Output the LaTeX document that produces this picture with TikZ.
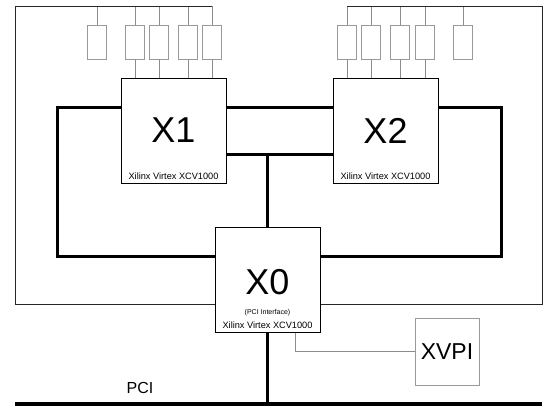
\documentclass[tikz,border=0pt]{standalone}
\usepackage{fontspec}
\setmainfont{Liberation Sans}
\usetikzlibrary{positioning,calc}
\tikzset{
  every node/.style={font=\normalsize},
  % --- nodes
  fpga/.style  = {draw=black, line width=1pt, fill=white, inner sep=0pt,
                  minimum width=105pt, minimum height=105pt,
                  font=\fontsize{36}{36}\selectfont},
  res/.style   = {draw=black!40, line width=0.7pt, fill=white, inner sep=0pt,
                  minimum width=19pt, minimum height=34pt},
  aux/.style   = {draw=black!40, line width=0.7pt, fill=white, inner sep=0pt,
                  minimum width=64pt, minimum height=67pt,
                  font=\fontsize{23}{23}\selectfont},
  sub/.style   = {font=\fontsize{9.2}{10}\selectfont, inner sep=0pt},
  tinysub/.style={font=\fontsize{7}{8}\selectfont, inner sep=0pt},
  lbl/.style   = {font=\fontsize{16}{16}\selectfont, inner sep=0pt},
  % --- edges
  frame/.style = {line width=1pt, draw=black!85},
  bus/.style   = {line width=3pt, draw=black},
  pcibus/.style= {line width=4pt, draw=black},
  wire/.style  = {line width=0.7pt, draw=black!45},
}
\begin{document}
\begin{tikzpicture}[x=1pt,y=-1pt]
  \useasboundingbox (0,0) rectangle (546,407);
  % fpgas
  \node[fpga] (x1) at (173.5,130.5) {X1};
  \node[fpga] (x2) at (385.5,130.5) {X2};
  \node[fpga, text depth=0pt] (x0) at (267.5,280) {\raisebox{-4pt}{X0}};
  \node[sub, above=4pt of x1.south] (x1sub) {Xilinx Virtex XCV1000};
  \node[sub, above=4pt of x2.south] (x2sub) {Xilinx Virtex XCV1000};
  \node[sub, above=4pt of x0.south] (x0sub) {Xilinx Virtex XCV1000};
  \node[tinysub, above=6pt of x0sub] (x0if) {(PCI Interface)};
  \node[aux] (xvpi) at (447,351.5) {XVPI};
  \node[lbl] (pcilbl) at (140,388) {PCI};
  % resistors
  \foreach \i/\x in {1/97,2/135,3/159,4/188,5/212}
    \node[res] (ra\i) at (\x,42) {};
  \foreach \i/\x in {1/347,2/371,3/400,4/425,5/463}
    \node[res] (rb\i) at (\x,42) {};
  \foreach \i in {1,...,5} {
    \draw[wire] (ra\i.north) -- (ra\i.north |- 0,6);
    \draw[wire] (rb\i.north) -- (rb\i.north |- 0,6);
  }
  \foreach \i in {2,...,5} \draw[wire] (ra\i.south) -- (ra\i.south |- x1.north);
  \foreach \i in {1,...,4} \draw[wire] (rb\i.south) -- (rb\i.south |- x2.north);
  % board outline
  \draw[frame] (ra5.north |- 0,6) -- (15,6) -- (15,304) -- (x0.west |- 0,304);
  \draw[frame] (x0.east |- 0,304) -- (542,304) -- (542,6) -- (rb1.north |- 0,6);
  % buses
  \draw[bus] (x1.west |- 0,107) -| (57,256) -- (x0.west |- 0,256);
  \draw[bus] (x2.east |- 0,107) -| (501,256) -- (x0.east |- 0,256);
  \draw[bus] (x1.east |- 0,107) -- (x2.west |- 0,107);
  \draw[bus] (x1.east |- 0,154) -- (x2.west |- 0,154);
  \draw[bus] (x0.north) -- (x0.north |- 0,154);
  \coordinate (pcil) at (15,404);
  \coordinate (pcir) at (542,404);
  \draw[pcibus] (pcil) -- (pcir);
  \draw[bus] (x0.south) -- (x0.south |- pcil);
  \draw[wire] ([xshift=28pt]x0.south) |- (xvpi);
\end{tikzpicture}
\end{document}
